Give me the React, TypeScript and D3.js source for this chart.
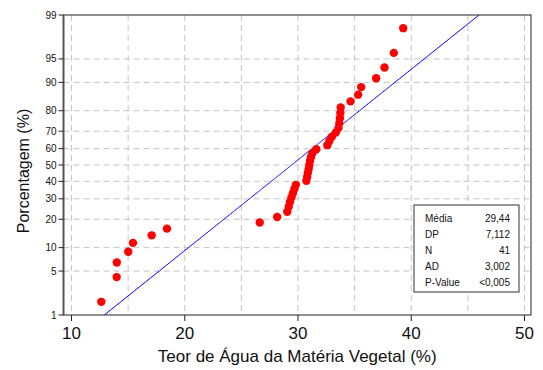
import React from "react";
import * as d3 from "d3";

// Teor de água (%) das amostras, ordenado
const waterContent = [
  12.63, 13.99, 14.0, 15.01, 15.43, 17.08, 18.43, 26.62, 28.16,
  29.05, 29.18, 29.29, 29.42, 29.55, 29.68, 29.81,
  30.74, 30.81, 30.87, 30.94, 31.0, 31.06, 31.14, 31.27, 31.62,
  32.59, 32.77, 32.99, 33.34, 33.57, 33.65, 33.7, 33.74, 33.77,
  34.64, 35.31, 35.58, 36.9, 37.64, 38.46, 39.29,
];

const xTicks = [10, 20, 30, 40, 50];
const xGrid = [10, 15, 20, 25, 30, 35, 40, 45, 50];
const yTicks = [1, 5, 10, 20, 30, 40, 50, 60, 70, 80, 90, 95, 99];

const statLabels = ["Média", "DP", "N", "AD", "P-Value"];
const statValues = ["29,44", "7,112", "41", "3,002", "<0,005"];
const fitMean = 29.44;
const fitSd = 7.112;

// Inverse of the standard normal CDF (Acklam's rational approximation)
function probit(p: number): number {
  const a = [-3.969683028665376e1, 2.209460984245205e2, -2.759285104469687e2, 1.38357751867269e2, -3.066479806614716e1, 2.506628277459239];
  const b = [-5.447609879822406e1, 1.615858368580409e2, -1.556989798598866e2, 6.680131188771972e1, -1.328068155288572e1];
  const c = [-7.784894002430293e-3, -3.223964580411365e-1, -2.400758277161838, -2.549732539343734, 4.374664141464968, 2.938163982698783];
  const d = [7.784695709041462e-3, 3.224671290700398e-1, 2.445134137142996, 3.754408661907416];
  const pl = 0.02425;
  if (p < pl) {
    const q = Math.sqrt(-2 * Math.log(p));
    return (((((c[0] * q + c[1]) * q + c[2]) * q + c[3]) * q + c[4]) * q + c[5]) / ((((d[0] * q + d[1]) * q + d[2]) * q + d[3]) * q + 1);
  }
  if (p > 1 - pl) {
    const q = Math.sqrt(-2 * Math.log(1 - p));
    return -(((((c[0] * q + c[1]) * q + c[2]) * q + c[3]) * q + c[4]) * q + c[5]) / ((((d[0] * q + d[1]) * q + d[2]) * q + d[3]) * q + 1);
  }
  const q = p - 0.5;
  const r = q * q;
  return ((((((a[0] * r + a[1]) * r + a[2]) * r + a[3]) * r + a[4]) * r + a[5]) * q) / (((((b[0] * r + b[1]) * r + b[2]) * r + b[3]) * r + b[4]) * r + 1);
}

const W = 543;
const H = 370;
const plot = { left: 63.5, right: 531, top: 15, bottom: 315 };
const FONT = "'Liberation Sans', Arial, Helvetica, sans-serif";

export default function App() {
  const x = d3.scaleLinear().domain([10, 50]).range([71.5, 524.5]);
  const zScale = d3.scaleLinear().domain([probit(0.01), probit(0.99)]).range([plot.bottom, plot.top]);
  const y = (pct: number) => zScale(probit(pct / 100));

  const n = waterContent.length;
  const points = waterContent.map((v, i) => ({ v, p: ((i + 1 - 0.3) / (n + 0.4)) * 100 }));

  // Fitted normal line across the plotted percentage range
  const fitPcts = d3.range(0.01, 0.99001, 0.005).map((p) => p * 100);
  const fitLine = d3
    .line<number>()
    .x((pct) => x(fitMean + fitSd * probit(pct / 100)))
    .y((pct) => y(pct));

  const legend = { x0: 414, y0: 205, x1: 519, y1: 292 };
  const rowBase = [222, 238, 254, 269.5, 285.5];

  return (
    <svg width={W} height={H} style={{ position: "absolute", left: 0, top: 0, background: "#fff" }} fontFamily={FONT}>
      <defs>
        <clipPath id="plotClip">
          <rect x={plot.left} y={plot.top} width={plot.right - plot.left} height={plot.bottom - plot.top} />
        </clipPath>
      </defs>
      <rect x={0} y={0} width={W} height={H} fill="#fff" />

      {/* grid */}
      <g stroke="#c4c4c4" strokeWidth={1} strokeDasharray="6,4">
        {xGrid.map((t) => (
          <line key={"gx" + t} x1={x(t)} x2={x(t)} y1={plot.top} y2={plot.bottom} />
        ))}
        {yTicks.filter((t) => t !== 1 && t !== 99).map((t) => (
          <line key={"gy" + t} x1={plot.left} x2={plot.right} y1={y(t)} y2={y(t)} />
        ))}
      </g>

      {/* fitted line */}
      <path d={fitLine(fitPcts) ?? ""} fill="none" stroke="#0000ff" strokeWidth={1} clipPath="url(#plotClip)" />

      {/* points */}
      <g fill="#ff0000">
        {points.map((d, i) => (
          <circle key={i} cx={x(d.v)} cy={y(d.p)} r={4.2} />
        ))}
      </g>

      {/* frame */}
      <rect x={plot.left} y={plot.top} width={plot.right - plot.left} height={plot.bottom - plot.top} fill="none" stroke="#222" strokeWidth={1} />
      <line x1={plot.left} x2={plot.left} y1={plot.top} y2={plot.bottom} stroke="#555" strokeWidth={2} />

      {/* y axis ticks */}
      <g>
        {yTicks.map((t) => (
          <g key={"yt" + t}>
            <line x1={plot.left - 5} x2={plot.left} y1={y(t)} y2={y(t)} stroke="#222" />
            <text x={plot.left - 7} y={y(t)} dy="0.35em" textAnchor="end" fontSize={10} fill="#111">
              {t}
            </text>
          </g>
        ))}
      </g>

      {/* x axis ticks */}
      <g>
        {xTicks.map((t) => (
          <g key={"xt" + t}>
            <line x1={x(t)} x2={x(t)} y1={plot.bottom} y2={plot.bottom + 6} stroke="#222" />
            <text x={x(t)} y={339} textAnchor="middle" fontSize={17} fill="#111">
              {t}
            </text>
          </g>
        ))}
      </g>

      {/* axis titles */}
      <text x={(plot.left + plot.right) / 2} y={362} textAnchor="middle" fontSize={17} fill="#111">
        Teor de Água da Matéria Vegetal (%)
      </text>
      <text transform={`translate(29,${(plot.top + plot.bottom) / 2 + 6}) rotate(-90)`} textAnchor="middle" fontSize={16} fill="#111">
        Porcentagem (%)
      </text>

      {/* statistics box */}
      <rect x={legend.x0} y={legend.y0} width={legend.x1 - legend.x0} height={legend.y1 - legend.y0} fill="#fff" stroke="#333" strokeWidth={1} />
      {statLabels.map((lab, i) => (
        <g key={lab} fontSize={10} fill="#111">
          <text x={legend.x0 + 11} y={rowBase[i]}>{lab}</text>
          <text x={legend.x1 - 9} y={rowBase[i]} textAnchor="end">{statValues[i]}</text>
        </g>
      ))}
    </svg>
  );
}
